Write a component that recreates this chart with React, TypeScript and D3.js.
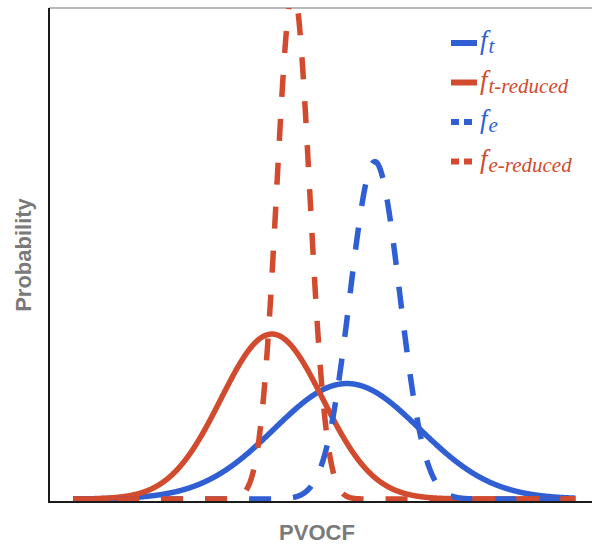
import React from "react";
import * as d3 from "d3";

// Normal densities of PVOCF: full and reduced, for the "t" and "e" cases
const seriesNames = ["f_t", "f_t-reduced", "f_e", "f_e-reduced"];
const seriesMeans = [53.2, 39.8, 58.2, 43.6];
const seriesSds = [13.0, 9.1, 4.45, 2.95];
const seriesDashed = [false, false, true, true];
const legendMain = ["f", "f", "f", "f"];
const legendSub = ["t", "t-reduced", "e", "e-reduced"];

const BLUE = "#2f5fd3";
const RED = "#d24b2f";
const seriesColors = [BLUE, RED, BLUE, RED];

const W = 592;
const H = 544;
const left = 49;
const top = 8;
const bottomAxis = 502;

const xDomain: [number, number] = [0, 100];
const yDomain: [number, number] = [0, 0.1305];
const evalRange: [number, number] = [4.3, 94];

function normalPdf(x: number, mu: number, sd: number) {
  const z = (x - mu) / sd;
  return Math.exp(-0.5 * z * z) / (sd * Math.sqrt(2 * Math.PI));
}

export default function App() {
  const x = d3.scaleLinear().domain(xDomain).range([left, left + 560]);
  const y = d3.scaleLinear().domain(yDomain).range([499, top]);

  const xs = d3.range(evalRange[0], evalRange[1], 0.05).concat([evalRange[1]]);
  const line = d3
    .line<number>()
    .x((d) => x(d))
    .curve(d3.curveLinear);

  const paths = seriesNames.map((name, i) => {
    const gen = line.y((d) => y(normalPdf(d, seriesMeans[i], seriesSds[i])));
    return { name, d: gen(xs) || "", color: seriesColors[i], dashed: seriesDashed[i] };
  });

  const legendX = 451;
  const legendY0 = 43;
  const legendStep = 39.5;

  return (
    <svg
      width={W}
      height={H}
      style={{ position: "absolute", left: 0, top: 0, background: "#fff" }}
    >
      <defs>
        <clipPath id="plotClip">
          <rect x={left} y={top} width={W - left + 20} height={bottomAxis - top + 4} />
        </clipPath>
      </defs>

      {/* panel border (top) */}
      <line x1={left} x2={W} y1={top} y2={top} stroke="#a0a0a0" strokeWidth={1.5} />

      <g clipPath="url(#plotClip)">
        {paths.map((p) => (
          <path
            key={p.name}
            d={p.d}
            fill="none"
            stroke={p.color}
            strokeWidth={5.5}
            strokeDasharray={p.dashed ? "22 22" : undefined}
            strokeLinejoin="round"
          />
        ))}
      </g>

      {/* axes */}
      <line x1={left} x2={left} y1={top} y2={bottomAxis + 1} stroke="#1a1a1a" strokeWidth={2} />
      <line x1={left - 1} x2={W} y1={bottomAxis} y2={bottomAxis} stroke="#1a1a1a" strokeWidth={2} />

      {/* axis titles */}
      <text
        x={317}
        y={540}
        textAnchor="middle"
        fontFamily="'Liberation Sans', Arial, sans-serif"
        fontWeight="bold"
        fontSize={22}
        fill="#7a7a7a"
      >
        PVOCF
      </text>
      <text
        transform={`translate(31, 255) rotate(-90)`}
        textAnchor="middle"
        fontFamily="'Liberation Sans', Arial, sans-serif"
        fontWeight="bold"
        fontSize={22}
        fill="#7a7a7a"
      >
        Probability
      </text>

      {/* legend */}
      {seriesNames.map((name, i) => {
        const cy = legendY0 + i * legendStep;
        return (
          <g key={name}>
            <line
              x1={legendX}
              x2={legendX + 26}
              y1={cy}
              y2={cy}
              stroke={seriesColors[i]}
              strokeWidth={6}
              strokeDasharray={seriesDashed[i] ? "8 5" : undefined}
            />
            <text
              x={legendX + 29}
              y={cy + 6}
              fontFamily="'Liberation Serif', 'Times New Roman', serif"
              fontStyle="italic"
              fill={seriesColors[i]}
            >
              <tspan fontSize={27}>{legendMain[i]}</tspan>
              <tspan fontSize={21} dx={1} dy={4}>
                {legendSub[i]}
              </tspan>
            </text>
          </g>
        );
      })}
    </svg>
  );
}
